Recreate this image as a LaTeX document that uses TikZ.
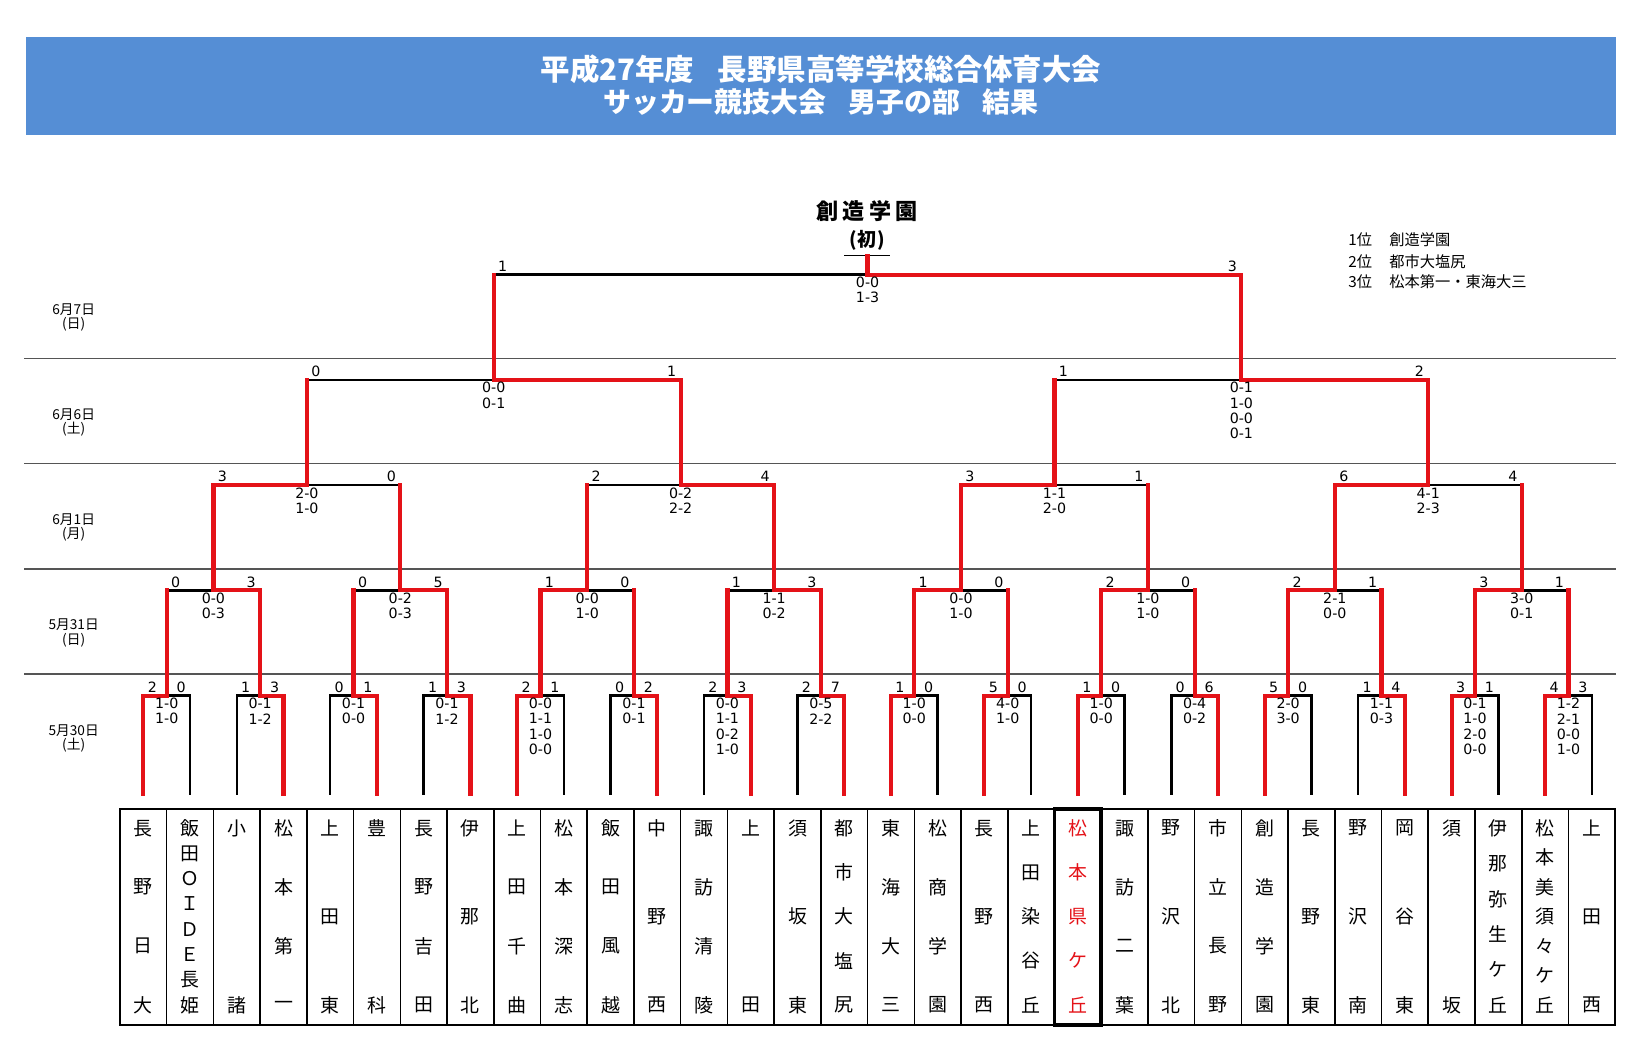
\documentclass[tikz,border=0pt]{standalone}
\usepackage{fontspec}
\setmainfont{Noto Sans CJK JP}
\newfontfamily\jp{Noto Sans CJK JP}
\newfontfamily\numf{DejaVu Sans}
\definecolor{ttlblue}{RGB}{85,142,213}
\definecolor{wred}{RGB}{228,18,24}
\definecolor{sepgray}{RGB}{85,85,85}
\pgfdeclarelayer{bg}
\pgfsetlayers{bg,main}
\tikzset{
  blk/.style={draw=black,line width=2.4pt,line join=miter,line cap=rect},
  redl/.style={draw=wred,line width=4pt,line join=miter,line cap=rect},
  score/.style={inner sep=0pt,font=\numf\fontsize{13.5}{14}\selectfont},
  res/.style={inner sep=0pt,font=\numf\fontsize{13.5}{14}\selectfont},
  tname/.style={inner sep=0pt,font=\fontsize{18}{20}\selectfont},
  datel/.style={inner sep=0pt,font=\fontsize{13}{14}\selectfont},
  legendt/.style={inner sep=0pt,anchor=west,font=\fontsize{14.5}{16}\selectfont},
  sepl/.style={draw=sepgray,line width=1.5pt},
  tbl/.style={draw=black,line width=1.5pt},
}
% #1 round, #2 index, #3 winner (0 left / 1 right), #4 left score, #5 right score, #6 results
\newcommand\mtch[6]{%
  \pgfmathsetmacro\rh{2^(#1-1)}%
  \pgfmathsetmacro\rq{2^(#1-2)}%
  \pgfmathsetmacro\xL{114+44.4*((2*#2-2)*\rh+\rq)}%
  \pgfmathsetmacro\xR{114+44.4*((2*#2-1)*\rh+\rq)}%
  \pgfmathsetmacro\xM{(\xL+\xR)/2}%
  \pgfmathsetmacro\yy{661-100*(#1-1)}%
  \pgfmathsetmacro\yb{\yy+100}%
  \pgfmathsetmacro\yt{\yy-100}%
  \ifnum#1=1 \def\yb{754}\fi
  \ifnum#1=5 \def\yt{243}\fi
  \ifnum#3=0 \let\xW\xL \let\xO\xR \else \let\xW\xR \let\xO\xL \fi
  \coordinate (m#1-#2) at (\xM,\yy);
  \coordinate (w#1-#2) at (\xW,\yb);
  \coordinate (wc#1-#2) at (\xW,\yy);
  \coordinate (o#1-#2) at (\xO,\yb);
  \coordinate (oc#1-#2) at (\xO,\yy);
  \coordinate (u#1-#2) at (\xM,\yt);
  \begin{pgfonlayer}{bg}
    \draw[blk] (o#1-#2) -- (oc#1-#2) -- (m#1-#2);
  \end{pgfonlayer}
  \draw[redl] (w#1-#2) -- (wc#1-#2) -- (m#1-#2) -- (u#1-#2);
  \node[score] (sl#1-#2) at (\xL+8.5,\yy-8) {#4};
  \node[score] (sr#1-#2) at (\xR-8.5,\yy-8) {#5};
  \foreach \r [count=\k from 0] in {#6} {
    \node[res] (r#1-#2-\k) at (\xM,\yy+7.5+14.5*\k) {\r};
  }%
}
% #1 column, #2 number of characters, #3 characters, #4 extra style
\newcommand\team[4]{%
  \pgfmathsetmacro\cx{114+44.4*(#1-0.5)}%
  \pgfmathsetmacro\dy{168/(#2-1)}%
  \foreach \ch [count=\k from 0] in {#3} {
    \node[tname,#4] (t#1-\k) at (\cx,787+\dy*\k) {\ch};
  }%
}
\begin{document}
\begin{tikzpicture}[x=1pt,y=-1pt]
\useasboundingbox (0,0) rectangle (1566,1003.5);
% title
\fill[ttlblue] (25,35) rectangle (1536,128);
\node[inner sep=0pt,text=white,font=\fontsize{28}{30}\selectfont\bfseries] (title1) at (780,66) {平成27年度\hspace{0.8em}長野県高等学校総合体育大会};
\node[inner sep=0pt,text=white,font=\fontsize{26.5}{30}\selectfont\bfseries] (title2) at (780,97) {サッカー競技大会\hspace{0.8em}男子の部\hspace{0.8em}結果};
% separators
\foreach \s in {340.5,440.5,540.5,640.5} {
  \draw[sepl] (23,\s) -- (1536,\s);
}
% dates
\foreach \d/\w/\yy in {6月7日/日/294,6月6日/土/394,6月1日/月/494,5月31日/日/594,5月30日/土/694} {
  \node[datel] (d\yy) at (70,\yy) {\d};
  \node[datel] (dw\yy) at (70,\yy+14) {(\w)};
}
% legend
\node[legendt] (p1) at (1281,228) {1位};
\node[legendt] (n1) at (1320,228) {創造学園};
\node[legendt] (p2) at (1281,249) {2位};
\node[legendt] (n2) at (1320,249) {都市大塩尻};
\node[legendt] (p3) at (1281,268) {3位};
\node[legendt] (n3) at (1320,268) {松本第一・東海大三};
% champion
\node[inner sep=0pt,font=\fontsize{21}{24}\selectfont\bfseries] (champ) at (824,201) {創\kern4pt 造\kern4pt 学\kern4pt 園};
\node[inner sep=0pt,font=\fontsize{18}{20}\selectfont\bfseries] (champ2) at (824,228) {(\kern1pt 初\kern1pt)};
\coordinate (ulA) at (802,242.5);
\coordinate (ulB) at (846,242.5);
\draw[draw=black,line width=1.3pt] (ulA) -- (ulB);
% round 1
\mtch{1}{1}{0}{2}{0}{1-0,1-0}
\mtch{1}{2}{1}{1}{3}{0-1,1-2}
\mtch{1}{3}{1}{0}{1}{0-1,0-0}
\mtch{1}{4}{1}{1}{3}{0-1,1-2}
\mtch{1}{5}{0}{2}{1}{0-0,1-1,1-0,0-0}
\mtch{1}{6}{1}{0}{2}{0-1,0-1}
\mtch{1}{7}{1}{2}{3}{0-0,1-1,0-2,1-0}
\mtch{1}{8}{1}{2}{7}{0-5,2-2}
\mtch{1}{9}{0}{1}{0}{1-0,0-0}
\mtch{1}{10}{0}{5}{0}{4-0,1-0}
\mtch{1}{11}{0}{1}{0}{1-0,0-0}
\mtch{1}{12}{1}{0}{6}{0-4,0-2}
\mtch{1}{13}{0}{5}{0}{2-0,3-0}
\mtch{1}{14}{1}{1}{4}{1-1,0-3}
\mtch{1}{15}{0}{3}{1}{0-1,1-0,2-0,0-0}
\mtch{1}{16}{0}{4}{3}{1-2,2-1,0-0,1-0}
% round 2
\mtch{2}{1}{1}{0}{3}{0-0,0-3}
\mtch{2}{2}{1}{0}{5}{0-2,0-3}
\mtch{2}{3}{0}{1}{0}{0-0,1-0}
\mtch{2}{4}{1}{1}{3}{1-1,0-2}
\mtch{2}{5}{0}{1}{0}{0-0,1-0}
\mtch{2}{6}{0}{2}{0}{1-0,1-0}
\mtch{2}{7}{0}{2}{1}{2-1,0-0}
\mtch{2}{8}{0}{3}{1}{3-0,0-1}
% round 3
\mtch{3}{1}{0}{3}{0}{2-0,1-0}
\mtch{3}{2}{1}{2}{4}{0-2,2-2}
\mtch{3}{3}{0}{3}{1}{1-1,2-0}
\mtch{3}{4}{0}{6}{4}{4-1,2-3}
% round 4
\mtch{4}{1}{1}{0}{1}{0-0,0-1}
\mtch{4}{2}{1}{1}{2}{0-1,1-0,0-0,0-1}
% final
\mtch{5}{1}{1}{1}{3}{0-0,1-3}
% table
\draw[tbl] (114,769) rectangle (1534.8,974);
\foreach \i in {1,...,31} {
  \pgfmathsetmacro\vx{114+44.4*\i}
  \draw[tbl] (\vx,769) -- (\vx,974);
}
\draw[draw=black,line width=3.5pt] (1002,769) rectangle (1046.4,974);
% team names
\team{1}{4}{長,野,日,大}{}
\team{2}{8}{飯,田,Ｏ,Ｉ,Ｄ,Ｅ,長,姫}{}
\team{3}{2}{小,諸}{}
\team{4}{4}{松,本,第,一}{}
\team{5}{3}{上,田,東}{}
\team{6}{2}{豊,科}{}
\team{7}{4}{長,野,吉,田}{}
\team{8}{3}{伊,那,北}{}
\team{9}{4}{上,田,千,曲}{}
\team{10}{4}{松,本,深,志}{}
\team{11}{4}{飯,田,風,越}{}
\team{12}{3}{中,野,西}{}
\team{13}{4}{諏,訪,清,陵}{}
\team{14}{2}{上,田}{}
\team{15}{3}{須,坂,東}{}
\team{16}{5}{都,市,大,塩,尻}{}
\team{17}{4}{東,海,大,三}{}
\team{18}{4}{松,商,学,園}{}
\team{19}{3}{長,野,西}{}
\team{20}{5}{上,田,染,谷,丘}{}
\team{21}{5}{松,本,県,ケ,丘}{text=wred}
\team{22}{4}{諏,訪,二,葉}{}
\team{23}{3}{野,沢,北}{}
\team{24}{4}{市,立,長,野}{}
\team{25}{4}{創,造,学,園}{}
\team{26}{3}{長,野,東}{}
\team{27}{3}{野,沢,南}{}
\team{28}{3}{岡,谷,東}{}
\team{29}{2}{須,坂}{}
\team{30}{6}{伊,那,弥,生,ケ,丘}{}
\team{31}{7}{松,本,美,須,々,ケ,丘}{}
\team{32}{3}{上,田,西}{}
\end{tikzpicture}
\end{document}
